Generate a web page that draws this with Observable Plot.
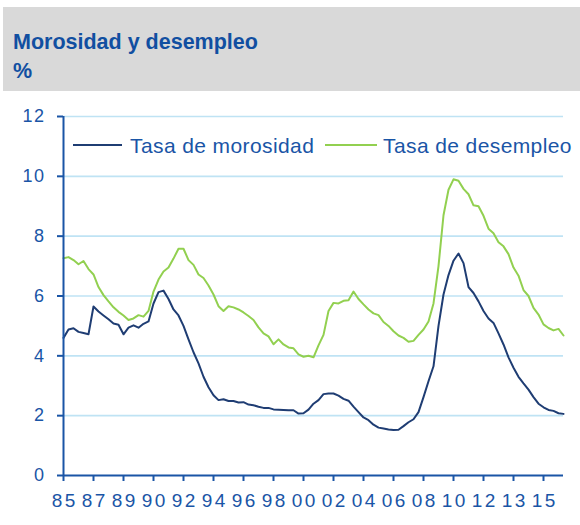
<!DOCTYPE html>
<html>
<head>
<meta charset="utf-8">
<script src="https://cdn.jsdelivr.net/npm/d3@7"></script>
<script src="https://cdn.jsdelivr.net/npm/@observablehq/plot@0.6"></script>
<style>
  html, body { margin: 0; padding: 0; background: #ffffff; }
  body { width: 580px; height: 525px; position: relative; overflow: hidden; font-family: "Liberation Sans", Arial, sans-serif; }
  #header { position: absolute; left: 3px; top: 7px; width: 577px; height: 84px; background: #d9d9d9; }
  .ttl { position: absolute; left: 10px; font-weight: bold; font-size: 21.5px; line-height: 21.5px; color: #114fa1; white-space: nowrap; }
  #chart { position: absolute; left: 0; top: 95px; }
  #legend { position: absolute; left: 0; top: 0; pointer-events: none; }
</style>
</head>
<body>
<div id="header">
  <div class="ttl" style="top:25px">Morosidad y desempleo</div>
  <div class="ttl" style="top:54px">%</div>
</div>
<div id="chart"></div>
<svg id="legend" width="580" height="525"></svg>
<script>
// Tick labels of the category axis (one label every 6 observations)
const xLabels = ["85","87","89","90","92","94","96","98","00","02","04","06","08","10","12","13","15"];
const yTicks = [0, 2, 4, 6, 8, 10, 12];
const seriesNames = ["Tasa de morosidad", "Tasa de desempleo"];

// Tasa de morosidad (%)
const morosidad = [
  4.60, 4.88, 4.92, 4.80, 4.76, 4.72, 5.65, 5.48, 5.35, 5.22,
  5.08, 5.04, 4.72, 4.94, 5.02, 4.94, 5.07, 5.15, 5.75, 6.13,
  6.18, 5.90, 5.55, 5.35, 5.00, 4.55, 4.12, 3.75, 3.30, 2.95,
  2.68, 2.52, 2.55, 2.49, 2.49, 2.44, 2.45, 2.37, 2.35, 2.30,
  2.26, 2.26, 2.21, 2.20, 2.19, 2.18, 2.18, 2.07, 2.08, 2.20,
  2.40, 2.52, 2.72, 2.74, 2.74, 2.67, 2.56, 2.50, 2.30, 2.12,
  1.94, 1.85, 1.70, 1.60, 1.57, 1.54, 1.52, 1.53, 1.65, 1.78,
  1.88, 2.12, 2.62, 3.15, 3.65, 5.00, 6.05, 6.70, 7.18, 7.42,
  7.10, 6.30, 6.10, 5.82, 5.50, 5.25, 5.10, 4.75, 4.38, 3.95,
  3.60, 3.30, 3.08, 2.87, 2.62, 2.40, 2.28, 2.19, 2.16, 2.08,
  2.06
];

// Tasa de desempleo (%)
const desempleo = [
  7.26, 7.30, 7.20, 7.06, 7.17, 6.90, 6.72, 6.30, 6.03, 5.82,
  5.62, 5.47, 5.35, 5.20, 5.25, 5.36, 5.31, 5.50, 6.15, 6.55,
  6.82, 6.95, 7.25, 7.58, 7.58, 7.20, 7.04, 6.72, 6.60, 6.35,
  6.05, 5.66, 5.50, 5.66, 5.62, 5.55, 5.45, 5.33, 5.20, 4.95,
  4.75, 4.65, 4.39, 4.55, 4.38, 4.28, 4.25, 4.05, 3.97, 4.00,
  3.95, 4.35, 4.70, 5.50, 5.77, 5.75, 5.84, 5.86, 6.15, 5.90,
  5.72, 5.55, 5.42, 5.36, 5.13, 5.00, 4.82, 4.68, 4.60, 4.47,
  4.50, 4.70, 4.88, 5.15, 5.75, 7.00, 8.70, 9.55, 9.90, 9.85,
  9.58, 9.40, 9.03, 9.00, 8.68, 8.25, 8.10, 7.80, 7.66, 7.40,
  6.95, 6.68, 6.20, 6.00, 5.60, 5.38, 5.05, 4.93, 4.85, 4.90,
  4.68
];

const colors = { morosidad: "#1f3d73", desempleo: "#92d050" };
const axisColor = "#1a55a6";
const gridColor = "#bfe3f4";

const step = 6;
const xTickIdx = xLabels.map((_, k) => k * step);
const dM = morosidad.map((v, i) => ({ i, v }));
const dD = desempleo.map((v, i) => ({ i, v }));

const chart = Plot.plot({
  width: 580,
  height: 430,
  marginLeft: 63,
  marginRight: 17,
  marginTop: 21,
  marginBottom: 50,
  style: { fontFamily: "'Liberation Sans', Arial, sans-serif", color: axisColor, background: "transparent", overflow: "visible" },
  x: { domain: [0, morosidad.length - 1] },
  y: { domain: [0, 12] },
  marks: [
    Plot.gridY(yTicks.filter(d => d > 0), { stroke: gridColor, strokeOpacity: 1, strokeWidth: 1.6 }),
    Plot.line(dD, { x: "i", y: "v", stroke: colors.desempleo, strokeWidth: 2 }),
    Plot.line(dM, { x: "i", y: "v", stroke: colors.morosidad, strokeWidth: 2 }),
    Plot.ruleX([0], { stroke: axisColor, strokeWidth: 2 }),
    Plot.ruleY([0], { stroke: axisColor, strokeWidth: 2 }),
    Plot.axisY(yTicks, { tickSize: 6, tickPadding: 12, strokeWidth: 2, label: null }),
    Plot.axisX(xTickIdx, { tickSize: 6, tickPadding: 12, strokeWidth: 2, label: null, tickFormat: d => xLabels[d / step] })
  ]
});
document.getElementById("chart").appendChild(chart);

// Tick label typography
const sel = d3.select(chart);
sel.selectAll('g[aria-label="y-axis tick label"]').attr("font-size", 18).attr("letter-spacing", 1.5)
  .selectAll("text").attr("font-size", 18);
sel.selectAll('g[aria-label="x-axis tick label"]').attr("font-size", 19).attr("letter-spacing", 2.5)
  .selectAll("text").attr("font-size", 19).attr("dx", 1.2);

// Legend
const lg = d3.select("#legend");
const items = [
  { name: seriesNames[0], color: colors.morosidad, x1: 73, x2: 122, tx: 130 },
  { name: seriesNames[1], color: colors.desempleo, x1: 325, x2: 377, tx: 383 }
];
items.forEach(it => {
  lg.append("line").attr("x1", it.x1).attr("x2", it.x2).attr("y1", 145).attr("y2", 145)
    .attr("stroke", it.color).attr("stroke-width", 2);
  lg.append("text").attr("x", it.tx).attr("y", 153)
    .attr("font-family", "'Liberation Sans', Arial, sans-serif").attr("font-size", 21)
    .attr("letter-spacing", 0.4).attr("fill", axisColor).text(it.name);
});
</script>
</body>
</html>
